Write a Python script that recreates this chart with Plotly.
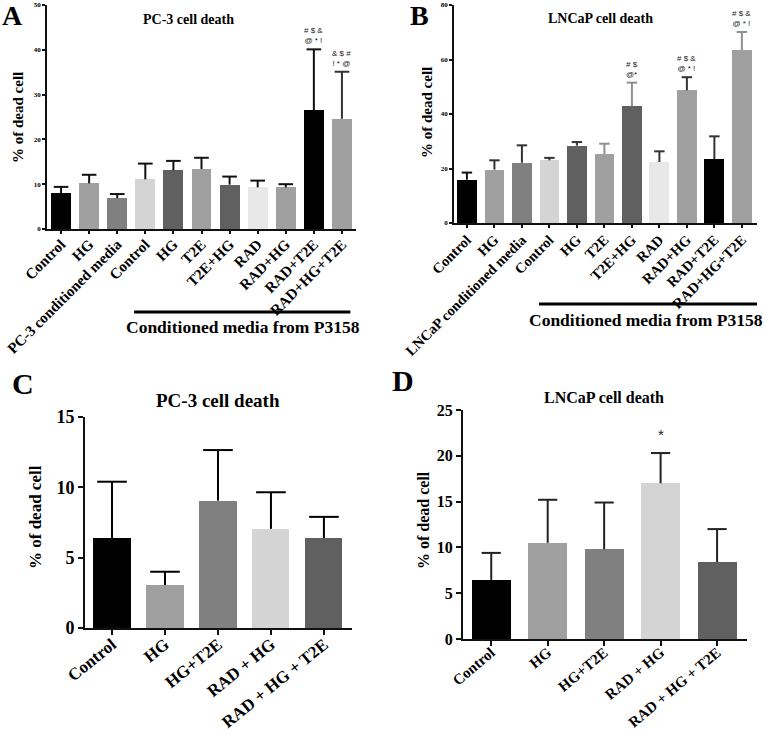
import plotly.graph_objects as go

# ---------------- data ----------------
a_labels = ["Control", "HG", "PC-3 conditioned media", "Control", "HG", "T2E", "T2E+HG",
            "RAD", "RAD+HG", "RAD+T2E", "RAD+HG+T2E"]
a_values = [8.0, 10.2, 6.9, 11.1, 13.1, 13.4, 9.9, 9.3, 9.3, 26.5, 24.6]
a_errors = [1.4, 1.9, 0.9, 3.5, 2.1, 2.5, 1.8, 1.5, 0.7, 13.6, 10.5]

b_labels = ["Control", "HG", "LNCaP conditioned media", "Control", "HG", "T2E", "T2E+HG",
            "RAD", "RAD+HG", "RAD+T2E", "RAD+HG+T2E"]
b_values = [15.9, 19.6, 22.1, 23.0, 28.4, 25.3, 42.8, 22.4, 48.7, 23.4, 63.5]
b_errors = [2.6, 3.4, 6.4, 0.9, 1.3, 3.8, 8.7, 3.9, 4.8, 8.4, 6.6]

c_labels = ["Control", "HG", "HG+T2E", "RAD + HG", "RAD + HG + T2E"]
c_values = [6.4, 3.05, 9.05, 7.05, 6.4]
c_errors = [4.0, 0.95, 3.6, 2.6, 1.5]

d_labels = ["Control", "HG", "HG+T2E", "RAD + HG", "RAD + HG + T2E"]
d_values = [6.45, 10.5, 9.8, 17.0, 8.4]
d_errors = [2.95, 4.7, 5.1, 3.3, 3.6]

a_y_ticks = [0, 10, 20, 30, 40, 50]
b_y_ticks = [0, 20, 40, 60, 80]
c_y_ticks = [0, 5, 10, 15]
d_y_ticks = [0, 5, 10, 15, 20, 25]

a_marks = {9: "# $ &<br>@ * !", 10: "& $ #<br>! * @"}
b_marks = {6: "# $<br>@*", 8: "# $ &<br>@ * !", 10: "# $ &<br>@ * !"}
d_marks = {3: "*"}

# ---------------- styles ----------------
ab_colors = ["#000000", "#a0a0a0", "#808080", "#d4d4d4", "#606060", "#a0a0a0",
             "#606060", "#e8e8e8", "#a0a0a0", "#000000", "#a0a0a0"]
a_err_colors = ["#111111"] * 10 + ["#333333"]
b_err_colors = ["#111111", "#333333", "#333333", "#333333", "#333333", "#909090",
                "#909090", "#333333", "#333333", "#333333", "#909090"]
cd_colors = ["#000000", "#a0a0a0", "#808080", "#d4d4d4", "#606060"]

SERIF = "Liberation Serif, Times New Roman, serif"
W, H = 765, 734


def px_x(p):
    return p / W


def px_y(p):
    return 1 - p / H


fig = go.Figure()


def add_panel(idx, labels, values, errors, colors, err_colors, bw, capw, lw):
    xa = "x" if idx == 1 else f"x{idx}"
    ya = "y" if idx == 1 else f"y{idx}"
    xs = list(range(len(labels)))
    fig.add_trace(go.Bar(x=xs, y=values, width=bw, marker=dict(color=colors, line=dict(width=0)),
                         xaxis=xa, yaxis=ya, showlegend=False, hoverinfo="skip"))
    for i, (v, e) in enumerate(zip(values, errors)):
        top = v + e
        fig.add_trace(go.Scatter(x=[i, i, None, i - capw, i + capw], y=[v, top, None, top, top],
                                 mode="lines", line=dict(color=err_colors[i], width=lw),
                                 xaxis=xa, yaxis=ya, showlegend=False, hoverinfo="skip"))


add_panel(1, a_labels, a_values, a_errors, ab_colors, a_err_colors, 0.71, 0.26, 2)
add_panel(2, b_labels, b_values, b_errors, ab_colors, b_err_colors, 0.72, 0.19, 2)
add_panel(3, c_labels, c_values, c_errors, cd_colors, ["#000000"] * 5, 0.70, 0.28, 2)
add_panel(4, d_labels, d_values, d_errors, cd_colors, ["#222222"] * 5, 0.69, 0.17, 2)


def axis_x(dom, rng, labels, size, ticklen, lw, anchor, standoff, angle):
    return dict(domain=dom, range=rng, tickmode="array", tickvals=list(range(len(labels))),
                ticktext=labels, tickangle=angle, showgrid=False, zeroline=False,
                showline=True, linecolor="#111111", linewidth=lw, ticks="outside",
                ticklen=ticklen, tickwidth=lw, tickcolor="#111111", automargin=False,
                anchor=anchor, fixedrange=True, ticklabelstandoff=standoff,
                tickfont=dict(family=SERIF, size=size, color="black", weight="bold"))


def axis_y(dom, rng, vals, size, ticklen, lw, anchor):
    return dict(domain=dom, range=rng, tickmode="array", tickvals=vals, showgrid=False,
                zeroline=False, showline=True, linecolor="#111111", linewidth=lw,
                ticks="outside", ticklen=ticklen, tickwidth=lw, tickcolor="#111111",
                anchor=anchor, automargin=False, fixedrange=True,
                tickfont=dict(family=SERIF, size=size, color="black", weight="bold"))


fig.update_layout(
    template="none",
    width=W, height=H, margin=dict(l=0, r=0, t=0, b=0, autoexpand=False),
    paper_bgcolor="white", plot_bgcolor="white", bargap=0,
    xaxis=axis_x([px_x(47), px_x(356)], [-0.5, 10.5], a_labels, 15, 3, 1.5, "y", -4, -45),
    yaxis=axis_y([px_y(229), px_y(5)], [0, 50], a_y_ticks, 7, 3, 1.5, "x"),
    xaxis2=axis_x([px_x(454), px_x(757)], [-0.47, 10.55], b_labels, 14.5, 3, 1.5, "y2", -2, -45),
    yaxis2=axis_y([px_y(223), px_y(5)], [0, 80], b_y_ticks, 7, 3, 1.5, "x2"),
    xaxis3=axis_x([px_x(85), px_x(352)], [-0.51, 4.53], c_labels, 17, 5, 2, "y3", -7, -39),
    yaxis3=axis_y([px_y(628), px_y(417)], [0, 15], c_y_ticks, 18, 5, 2, "x3"),
    xaxis4=axis_x([px_x(463), px_x(747)], [-0.5, 4.53], d_labels, 15, 5, 2, "y4", -8, -40),
    yaxis4=axis_y([px_y(639), px_y(410)], [0, 25], d_y_ticks, 16, 5, 2, "x4"),
)

ann = []


def txt(x, y, text, size, angle=0, xanchor="center", yanchor="middle"):
    ann.append(dict(x=px_x(x), y=px_y(y), xref="paper", yref="paper", text=text,
                    showarrow=False, textangle=angle, xanchor=xanchor, yanchor=yanchor,
                    font=dict(family=SERIF, size=size, color="black", weight="bold")))


# panel letters
txt(13, 16, "A", 28)
txt(419, 15, "B", 28)
txt(23, 383, "C", 30)
txt(403, 380, "D", 30)
# titles
txt(188, 20, "PC-3 cell death", 14)
txt(600, 18, "LNCaP cell death", 14)
txt(218, 400, "PC-3 cell death", 19)
txt(604, 397, "LNCaP cell death", 16)
# y titles
txt(18, 118, "% of dead cell", 15, -90)
txt(427, 113, "% of dead cell", 15, -90)
txt(35, 517, "% of dead cell", 17, -90)
txt(423, 520, "% of dead cell", 16, -90)
# conditioned media labels
txt(243, 327, "Conditioned media from P3158", 17.5)
txt(646, 320, "Conditioned media from P3158", 17.5)

# significance marks
for mk, vals, errs, xr, yr, sz in [(a_marks, a_values, a_errors, "x", "y", 8),
                                  (b_marks, b_values, b_errors, "x2", "y2", 8),
                                  (d_marks, d_values, d_errors, "x4", "y4", 15)]:
    for i, t in mk.items():
        ann.append(dict(x=i, y=vals[i] + errs[i], xref=xr, yref=yr, text=t, showarrow=False,
                        yanchor="bottom", yshift=2 if sz < 10 else 8,
                        font=dict(family="Liberation Sans", size=sz, color="#222222")))

fig.update_layout(annotations=ann)

# horizontal bars under "conditioned media" groups
fig.add_shape(type="line", xref="x", yref="paper", x0=2.6, x1=10.3, y0=px_y(312), y1=px_y(312),
              line=dict(color="black", width=3))
fig.add_shape(type="line", xref="x2", yref="paper", x0=2.62, x1=10.55, y0=px_y(304), y1=px_y(304),
              line=dict(color="black", width=3))

fig.write_html("out.html", config={"displayModeBar": False},
               post_script="document.body.style.margin='0px';")
